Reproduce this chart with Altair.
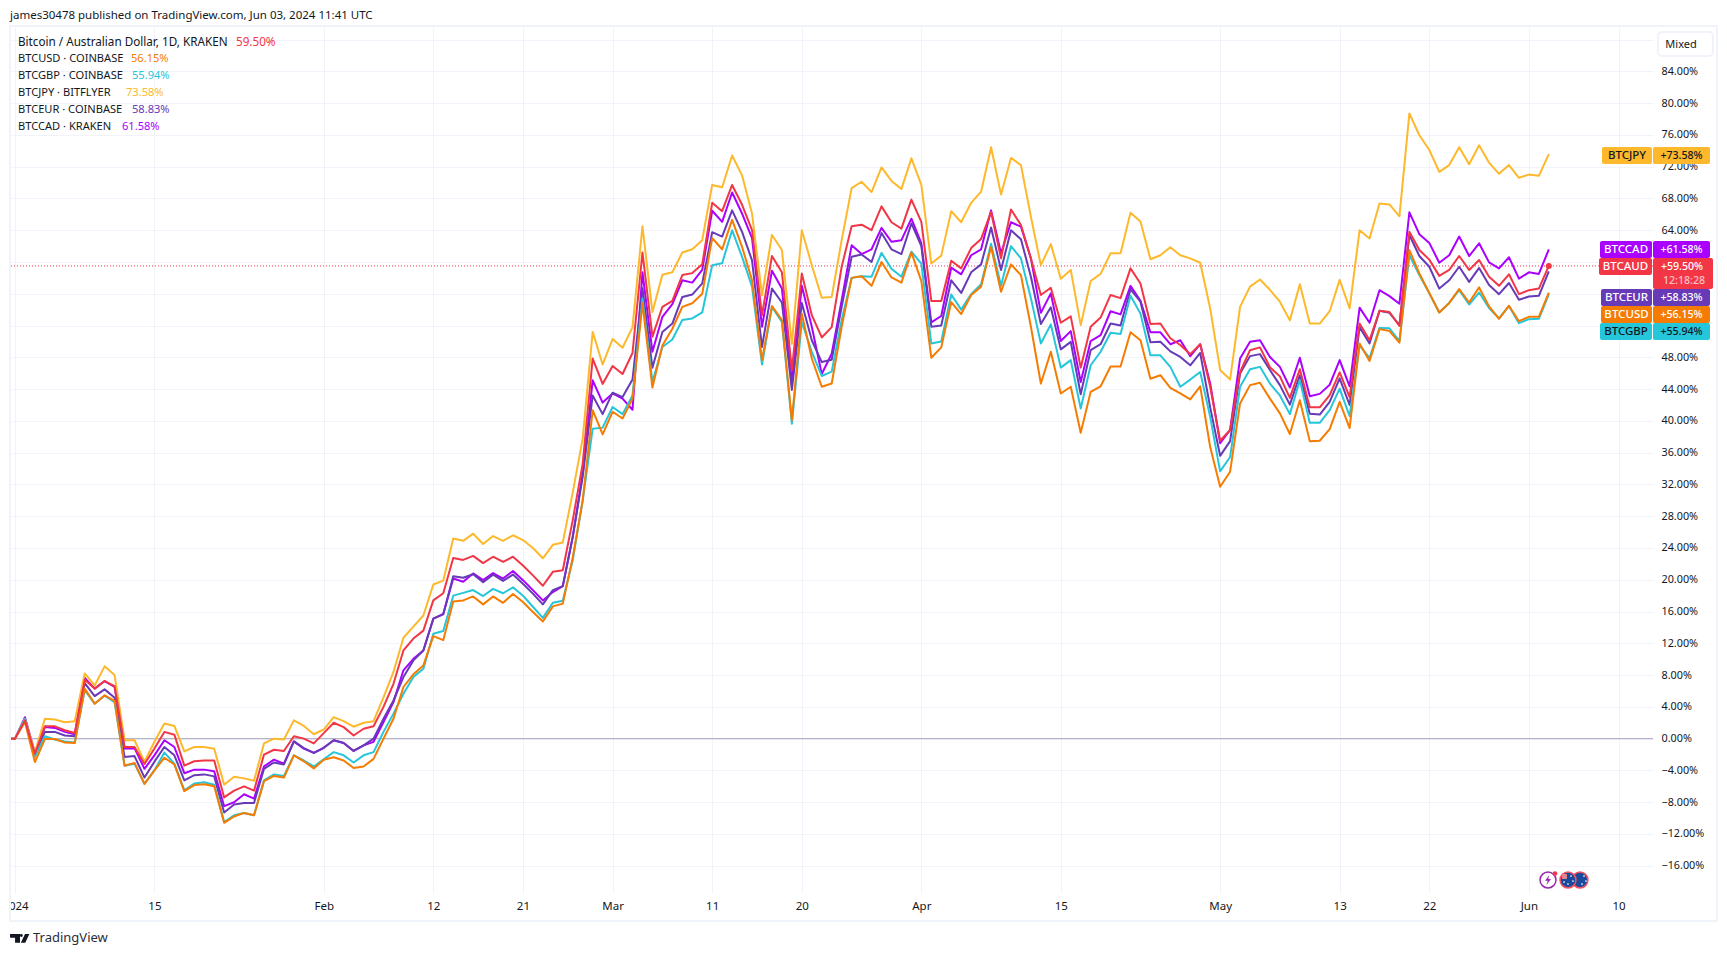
import altair as alt
import pandas as pd

dates = [d.strftime("%Y-%m-%d") for d in pd.date_range("2023-12-31", "2024-06-03")]

USD = [0,0,2.1,-2.95,-0.05,-0.05,-0.5,-0.55,6.3,4.4,5.45,4.75,-3.4,-3.05,-5.7,-4.0,-2.4,-3.25,-6.6,-5.85,-5.75,-6.0,-10.6,-9.8,-9.35,-9.65,-5.35,-4.7,-4.9,-2.1,-2.85,-3.75,-2.65,-2.35,-2.75,-3.7,-3.5,-2.55,
 0,2.5,6.5,8.1,9.2,12.9,12.4,17.25,17.4,17.9,16.9,17.9,17.1,18.2,17.2,15.95,14.75,16.65,17.0,
 22.8,30,
 41.35,38.3,41.15,40.3,42.8,54.8,44.2,49.5,51.6,54.35,54.8,56,63,61.6,65.3,61.9,57.7,47.65,54.45,52.7,40.1,53.5,47.85,44.3,44.7,51.85,
 58,58.2,57,60,58.05,57.4,61.2,57.6,47.95,49.25,54.95,53.45,55.85,56.9,61.9,56.25,59.7,58.35,51.85,44.7,48.7,43.45,44.3,38.5,43.65,44.35,46.85,46.85,51.15,50.15,45.3,45.75,44.15,43.45,42.7,44.35,
 36.7,31.7,33.6,42.2,44.5,44.8,42.8,40.95,38.35,42.6,37.45,37.5,38.95,42.4,39.1,49.75,47.55,51.55,51.3,49.85,61.5,58.55,56.1,53.65,54.85,56.6,54.9,56.8,54.4,52.85,54.5,52.55,53.1,53.1,56.15]

GBP = [0,0,2.5,-2.3,0.3,-0.1,-0.35,-0.5,6.1,4.4,5.4,4.6,-3.4,-3.15,-5.7,-4.0,-1.75,-3.15,-6.5,-5.65,-5.5,-5.8,-10.5,-9.65,-9.35,-9.65,-5.25,-4.5,-4.7,-2.1,-2.75,-3.5,-2.6,-1.7,-2.1,-3.0,-2.1,-1.7,
 0.85,3.15,5.65,7.75,8.8,13.2,13.55,18.0,18.35,18.7,17.95,18.85,18.3,19.05,18.0,16.6,15.2,17.1,17.35,
 22.5,30,
 39,39.15,41.75,40.85,43.2,55.4,44.9,49.3,50.25,52.7,52.9,53.65,59.6,59.85,64,60.65,56.9,47.1,54.35,52.45,39.65,52.45,48.7,45.65,46.2,52.7,
 58,58.2,58.15,61.15,59.15,58.15,61.3,59.8,49.75,50,55.9,54,55.95,57.2,62.3,57,62,60.45,55.45,49.75,52.15,46.7,47.65,41.55,47,48.7,51.1,50.95,55.75,53.5,48.25,48.25,46.8,44.3,45.2,46.15,
 40.5,33.65,35.45,44.3,46.5,46.8,44.7,43.2,40.85,45.15,39.75,39.75,41.35,44.05,40.6,49.5,47.9,51.7,51.65,50.05,60.85,58.35,56.05,53.65,54.85,56.45,54.65,56.15,54.2,52.9,54.45,52.3,52.8,52.85,55.94]

JPY = [0,0,2.5,-1.7,2.5,2.4,2.07,2.2,8.2,6.7,9.1,8.0,-0.2,-0.2,-2.9,-0.4,1.9,1.6,-1.6,-1.05,-1.05,-1.26,-5.8,-4.8,-5.0,-5.3,-0.6,0,-0.1,2.3,1.6,0.55,1.15,2.7,2.2,1.5,2.0,2.2,
 5.2,8.4,12.7,14.1,15.5,19.4,19.9,25.2,24.9,25.8,24.5,25.5,24.9,25.6,25.0,24.0,22.7,24.4,24.7,
 31,37.8,
 51.2,47.1,50.3,49.2,51.8,64.5,53.7,58.4,58.7,61.2,61.6,62.75,69.7,69.4,73.4,70.9,66.1,55.8,63.4,61.5,49.7,64.0,59.6,55.5,55.6,62.75,
 69.3,70.1,68.8,71.9,70.2,69.2,73.05,69.7,59.8,60.8,66.4,65,67.45,68.85,74.45,68.5,73.1,72.2,65.7,59.6,62.25,57.9,59,52.05,57.6,58.5,61.1,61.1,66.2,65.1,60.35,60.85,61.85,60.85,60.45,59.9,
 54.15,46.4,45.2,54.35,56.9,57.8,56.5,55,52.65,57.2,52.25,52.25,53.8,57.75,54.15,64,62.95,67.35,67.25,65.75,78.7,75.95,74.1,71.35,72.2,74.45,72.3,74.7,72.5,71.1,72.2,70.6,71,70.85,73.58]

EUR = [0,0,2.5,-1.9,0.85,0.85,0.4,0.3,7.0,5.35,6.2,5.15,-2.3,-2.2,-4.9,-2.9,-1.05,-2.1,-5.25,-4.6,-4.5,-4.75,-9.3,-8.3,-8.1,-8.1,-3.8,-3.0,-3.25,-0.35,-1.2,-1.8,-1.15,-0.2,-0.55,-1.55,-0.85,0,
 2.5,4.8,7.75,9.85,11.1,15.1,15.65,20.45,20.25,20.7,19.7,20.65,19.85,20.65,19.5,18.25,16.9,18.7,19.2,
 25.4,33,
 43.2,40.85,43.55,43,45.2,56.7,46.7,51.2,52.25,55.6,55.9,57.3,63.75,63.2,66.5,63.8,60.2,49.3,56.65,54.9,43.9,54.85,50.15,47.4,47.7,54.35,
 60.65,60.95,60,63.65,61.6,61,64.85,62,51.85,52,57.7,56.1,58.7,59.7,64.35,59,64,62.85,58.15,52.2,54.3,49,49.95,43.35,48.9,49.65,52.25,52,56.55,55,49.9,49.95,48.75,48.05,47,48.55,
 41.7,35.6,37.45,45.95,48.15,48.4,46.4,44.5,42.05,45.75,40.9,40.8,42.4,45.35,42,51.8,49.75,53.85,53.6,52.05,63.4,60.75,59.4,56.65,57.7,59.4,57.5,59.25,57.1,55.95,57.35,55.25,55.65,55.75,58.83]

CAD = [0,0,2.7,-1.8,1.45,1.35,0.85,0.55,7.65,6.3,7.25,6.5,-1.25,-1.2,-3.8,-2.1,-0.2,-1.05,-4.35,-3.9,-3.9,-4.1,-8.5,-8.0,-7.0,-7.55,-3.5,-2.65,-3.15,-0.35,-1.25,-1.8,-1.15,-0.2,-0.55,-1.55,-0.85,-0.4,
 2.1,4.6,8.6,10.05,11.1,15.1,15.7,20.15,19.75,20.8,19.95,20.85,20.15,21.1,19.95,18.7,17.4,18.45,19.2,
 25.4,33.4,
 45.1,42.3,43.45,42.8,41.4,58.7,48.7,53.1,54.7,57.7,57.4,59,66.45,65.05,68.75,66.1,63,51.85,58.9,56.65,44.9,57,51.85,45.9,48.45,55.2,
 62.1,61,61.6,64.3,62.55,62.75,65.45,62.35,52.4,53.2,59.3,58.45,60.85,61.6,66.5,61.1,65,64.45,60.45,53.6,56.05,50.05,51.3,44.9,50.05,50.8,53.8,53.4,57,55.1,51.15,51.15,49.65,50.15,48.15,49.65,
 44.7,37.2,38.85,47.85,49.95,50.15,48.05,46.8,44.2,47.95,43.1,43.4,44.55,47.65,44.35,54.25,52.35,56.45,55.7,54.75,66.25,63.5,62.4,59.9,60.85,63.2,60.75,62.35,59.95,59.2,60.6,57.9,58.7,58.5,61.58]

AUD = [0,0,2.3,-1.9,1.55,1.55,1.05,0.7,7.4,6.3,7.25,6.6,-1.05,-1.05,-3.2,-1.25,0.85,0.5,-3.4,-2.85,-2.75,-2.75,-7.4,-6.55,-6.0,-6.55,-2.0,-1.4,-1.55,0.3,0,-0.6,0.7,2.0,1.45,0.4,1.25,1.55,
 4.0,6.9,11.1,12.6,13.6,17.4,18.3,22.75,22.5,23.0,22.1,22.9,22.25,22.9,21.8,20.55,19.25,21.0,21.2,
 27.5,34.6,
 47.85,44.65,46.9,45.9,48.55,61.2,50.6,54.35,55.1,58.35,58.6,59.7,67.45,66.4,69.7,67.2,64,53.3,60.75,58.7,46.4,58.55,53.3,50.5,51.8,59.4,
 64.5,64.7,64,67,65,64.2,67.85,65.05,55.1,55.1,60.15,59.2,61.75,62.9,66.3,60.45,66.6,64.65,60.45,55.85,56.75,52.35,53.15,46.7,51.85,53,55.85,55.45,59.2,57.3,52.2,52.25,50.4,49.55,48.4,49.65,
 44.3,37.5,38.85,46.15,48.9,49.25,46.75,45.6,42.9,46.5,41.7,41.7,43.25,46.1,43,52.25,50.15,53.85,53.7,51.95,63.8,61.5,60.3,58.25,59,60.75,59,60.25,58.15,57,58.45,55.95,56.45,56.65,59.5]

SERIES = {"BTCCAD": CAD, "BTCEUR": EUR, "BTCJPY": JPY, "BTCGBP": GBP, "BTCUSD": USD, "BTCAUD": AUD}
COLORS = {"BTCCAD": "#aa00ff", "BTCEUR": "#673ab7", "BTCJPY": "#fdb92b", "BTCGBP": "#26c6da",
          "BTCUSD": "#f57c00", "BTCAUD": "#f23645"}

TICK_DATES = {"2024-01-01": "2024", "2024-01-15": "15", "2024-02-01": "Feb", "2024-02-12": "12",
              "2024-02-21": "21", "2024-03-01": "Mar", "2024-03-11": "11", "2024-03-20": "20",
              "2024-04-01": "Apr", "2024-04-15": "15", "2024-05-01": "May", "2024-05-13": "13",
              "2024-05-22": "22", "2024-06-01": "Jun", "2024-06-10": "10"}
Y_TICKS = list(range(-16, 92, 4))

LEGEND = [("Bitcoin / Australian Dollar, 1D, KRAKEN", "59.50%", "BTCAUD", 236, 42, 11.7),
          ("BTCUSD · COINBASE", "56.15%", "BTCUSD", 131, 59, 11.1),
          ("BTCGBP · COINBASE", "55.94%", "BTCGBP", 132, 76, 11.1),
          ("BTCJPY · BITFLYER", "73.58%", "BTCJPY", 126, 93, 11.1),
          ("BTCEUR · COINBASE", "58.83%", "BTCEUR", 132, 110, 11.1),
          ("BTCCAD · KRAKEN", "61.58%", "BTCCAD", 122, 127, 11.1)]

TAGS = [("BTCJPY", "+73.58%", "BTCJPY", 1602, 147, "#131722"),
        ("BTCCAD", "+61.58%", "BTCCAD", 1600, 241, "#ffffff"),
        ("BTCEUR", "+58.83%", "BTCEUR", 1601, 289, "#ffffff"),
        ("BTCUSD", "+56.15%", "BTCUSD", 1601, 306, "#ffffff"),
        ("BTCGBP", "+55.94%", "BTCGBP", 1600, 323, "#131722")]

for k, v in SERIES.items():
    assert len(v) == len(dates), (k, len(v))

df = pd.DataFrame([{"date": d, "pair": k, "pct": p} for k, v in SERIES.items() for d, p in zip(dates, v)])

FONT = "Noto Sans"
DARK = "#131722"
GRID = "#f0f3fa"
LEFT, TOP = 11, 27            # page position of the plot's corner
PW, PH = 1642, 866


def ms(s):
    return int(pd.Timestamp(s, tz="UTC").value // 10**6)


one = alt.Data(values=[{"a": 1}])


def text(s, x, y, color=DARK, size=11.5, align="left", weight=400):
    return alt.Chart(one).mark_text(text=s, font=FONT, fontSize=size, color=color, align=align,
                                    baseline="middle", fontWeight=weight).encode(
        x=alt.value(x - LEFT), y=alt.value(y - TOP))


def box(x0, x1, y0, y1, color, radius=2, stroke=None):
    kw = {"stroke": stroke, "strokeWidth": 2} if stroke else {}
    return alt.Chart(one).mark_rect(color=color, cornerRadius=radius, **kw).encode(
        x=alt.value(x0 - LEFT), x2=alt.value(x1 - LEFT), y=alt.value(y0 - TOP), y2=alt.value(y1 - TOP))


def dot(x, y, size, fill, stroke=None, width=2):
    kw = {"stroke": stroke, "strokeWidth": width} if stroke else {"strokeWidth": 0}
    return alt.Chart(one).mark_point(filled=True, fill=fill, size=size, opacity=1, **kw).encode(
        x=alt.value(x - LEFT), y=alt.value(y - TOP))


def glyph(path, x, y, size, fill):
    return alt.Chart(one).mark_point(filled=True, fill=fill, size=size, opacity=1, strokeWidth=0, shape=path).encode(
        x=alt.value(x - LEFT), y=alt.value(y - TOP))


label_map = "{" + ",".join(f"'{k}':'{v}'" for k, v in TICK_DATES.items()) + "}"
x_enc = alt.X("date:T",
              scale=alt.Scale(type="utc", domain=[ms("2023-12-31T14:22:00"), ms("2024-06-13T11:02:00")]),
              axis=alt.Axis(values=[ms(k) for k in TICK_DATES], title=None, orient="bottom",
                            labelExpr=label_map + "[utcFormat(datum.value,'%Y-%m-%d')]",
                            labelFont=FONT, labelFontSize=11.5, labelColor=DARK, labelPadding=7,
                            labelOverlap=False, labelFlush=False, labelBound=False,
                            tickSize=0, domain=False, grid=True, gridColor=GRID, gridWidth=1))
# 88 sits behind the scale button; 52, 56 and 60 sit behind the price tags
y_enc = alt.Y("pct:Q",
              scale=alt.Scale(domain=[-19.43, 89.58], nice=False, zero=False),
              axis=alt.Axis(values=Y_TICKS, title=None, orient="right",
                            labelExpr="indexof([88,60,56,52],datum.value)>=0?'':replace(format(datum.value,'.2f'),'-','\u2212')+'%'",
                            labelFont=FONT, labelFontSize=10.8, labelColor=DARK, labelPadding=8,
                            labelOverlap=False, labelBound=False,
                            tickSize=0, domain=False, grid=True, gridColor=GRID, gridWidth=1))

lines = alt.Chart(df).mark_line(strokeWidth=2, strokeJoin="round", clip=True).encode(
    x=x_enc, y=y_enc,
    color=alt.Color("pair:N", legend=None,
                    scale=alt.Scale(domain=list(COLORS), range=list(COLORS.values()))))

zero = alt.Chart(pd.DataFrame({"pct": [0]})).mark_rule(color="#aaa8bb", strokeWidth=1).encode(y=y_enc)
last = alt.Chart(pd.DataFrame({"pct": [AUD[-1]]})).mark_rule(color=COLORS["BTCAUD"], strokeWidth=1,
                                                            strokeDash=[1, 2]).encode(y=y_enc)
end_dot = alt.Chart(pd.DataFrame({"date": [dates[-1]], "pct": [AUD[-1]]})).mark_circle(
    color=COLORS["BTCAUD"], size=36, opacity=1).encode(x=x_enc, y=y_enc)

layers = [zero, last, lines, end_dot]

# page furniture
layers.append(box(1, 9, 896, 920, "#ffffff", radius=0))
layers.append(alt.Chart(one).mark_rect(fill=None, stroke=GRID, strokeWidth=2).encode(
    x=alt.value(10 - LEFT), x2=alt.value(1717 - LEFT), y=alt.value(26 - TOP), y2=alt.value(921 - TOP)))
layers.append(text("james30478 published on TradingView.com, Jun 03, 2024 11:41 UTC", 10, 15.5))
layers.append(text("TradingView", 33, 938, size=13, color="#2a2e39"))
layers.append(glyph("M-1 -0.45H0.03V0.45H-0.48V-0.05H-1Z M0.55 -0.45H1L0.58 0.45H0.12Z", 19.7, 938.3, 372, DARK))
layers.append(dot(21.3, 935.5, 8, DARK))

# legend
for name, val, key, vx, y, sz in LEGEND:
    layers.append(text(name, 18, y, size=sz))
    layers.append(text(val, vx, y, color=COLORS[key], size=sz))

# scale-mode button
layers.append(box(1658, 1713, 32, 56, "#ffffff", radius=4, stroke=GRID))
layers.append(text("Mixed", 1681, 45, size=11, align="center"))

# price tags
for name, val, key, x0, y0, fg in TAGS:
    layers.append(box(x0, 1652, y0, y0 + 17, COLORS[key]))
    layers.append(box(1653, 1710, y0, y0 + 17, COLORS[key]))
    layers.append(text(name, (x0 + 1652) / 2, y0 + 8.5, color=fg, align="center", weight=500))
    layers.append(text(val, 1681.5, y0 + 8.5, color=fg, size=10.6, align="center", weight=500))
layers.append(box(1599, 1652, 258, 275, COLORS["BTCAUD"]))
layers.append(box(1653, 1713, 258, 289, COLORS["BTCAUD"]))
layers.append(text("BTCAUD", 1625.5, 266.5, color="#ffffff", align="center", weight=500))
layers.append(text("+59.50%", 1682, 266.5, color="#ffffff", size=10.6, align="center", weight=500))
layers.append(text("12:18:28", 1684, 281, color="#fbc1c6", size=10.6, align="center", weight=500))

# event icons
layers.append(dot(1580, 880, 254, "#1a4a9c", "#f7525f", 1.5))
layers.append(dot(1568, 880, 254, "#1a4a9c", "#f7525f", 1.5))
layers.append(box(1562, 1567, 874, 879, "#e8828c", radius=1))
for px, py in [(1571, 876), (1573, 881), (1568, 884), (1564, 882)]:
    layers.append(dot(px, py, 3, "#ffffff"))
for px, py in [(1584, 876), (1586, 881), (1582, 884)]:
    layers.append(dot(px, py, 3, "#ffffff"))
layers.append(dot(1548, 880, 254, "#ffffff", "#9c27b0", 1.5))
layers.append(glyph("M0.25 -1L-0.6 0.15H-0.05L-0.3 1L0.6 -0.2H0.05Z", 1548, 880, 100, "#9c27b0"))
layers.append(dot(1555, 873.5, 22, "#f23645"))

chart = alt.layer(*layers).properties(
    width=PW, height=PH,
    padding={"left": 3, "top": 19, "right": 66, "bottom": 52},
    autosize=alt.AutoSizeParams(type="none"),
    background="#ffffff",
).configure_view(stroke=None)

chart.save("out.html", embed_options={"renderer": "svg", "actions": False})
